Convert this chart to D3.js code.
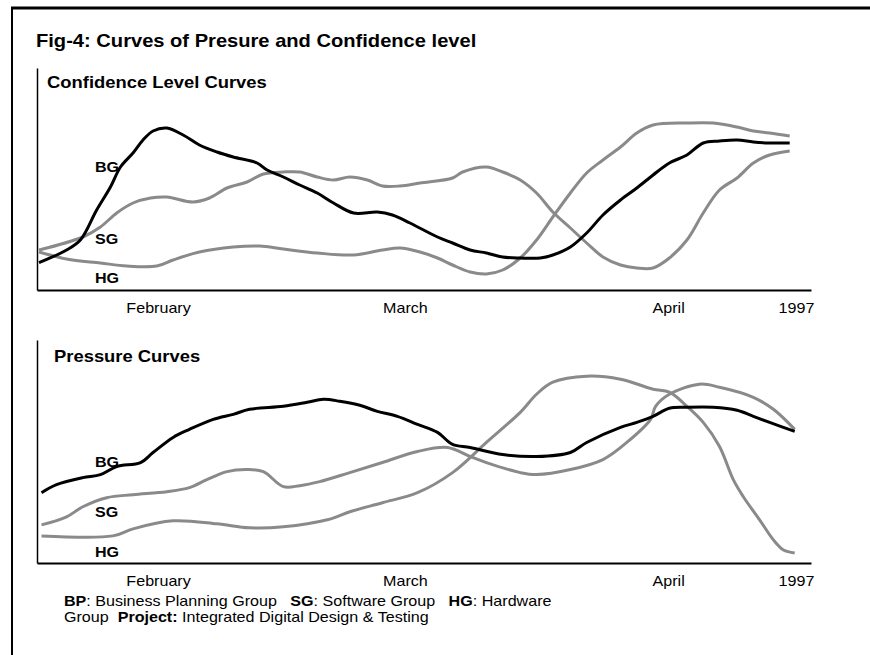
<!DOCTYPE html>
<html>
<head>
<meta charset="utf-8">
<script src="https://cdn.jsdelivr.net/npm/d3@7"></script>
<style>
  body { margin: 0; background: #fff; }
  svg { display: block; font-family: "Liberation Sans", Arial, sans-serif; }
</style>
</head>
<body>
<script>
// x values are days from the start of the period, y values are levels (0 = axis)
var tickDays = [9.5, 29.2, 50.2, 60.4];
var tickLabels = ['February', 'March', 'April', '1997'];
var groupNames = ['BG', 'SG', 'HG'];

// Confidence level curves
var confBG = [[0,13.7],[2.2,20],[3.3,25],[4.6,40],[5.7,51.5],[6.5,61.5],[7.5,68.5],[8.3,75],[9.1,79.5],[10.2,81],
  [11.5,77.5],[12.8,72.5],[14.2,69],[15.5,66.5],[17.4,63.5],[18.2,60],[19.5,56.5],[20.8,52.5],[22.2,48.5],[23.5,43.5],
  [25.1,38.5],[27,39],[28.2,37.5],[29.6,33.5],[31.8,26.5],[33,23.5],[34.4,20],[35.7,18.5],[37,16.5],[38.4,16],
  [40,16],[41,17.5],[42.4,21.5],[43.7,28.5],[45,37.5],[46.4,45],[47.7,51],[49,57.5],[50.3,63.5],[51.7,67.5],
  [53,73.5],[54.3,74.5],[55.7,75],[57,74],[58.3,73.5],[59.9,73.5]];
var confSG = [[0,20],[3.5,26.5],[4.9,31.5],[6.2,38.5],[7.5,43.5],[8.9,46],[10.2,46.5],[12.3,44],[13.6,46],[15,51],
  [16.6,54],[17.9,58],[19.5,59],[20.8,59],[22.2,56.5],[23.5,55],[24.8,56.5],[26.2,55],[27.4,52],[28.8,52],
  [30.4,53.5],[33,56],[33.8,59],[35.7,61.5],[37,59],[38.4,55],[39.7,48.5],[41,39],[42.4,31],[43.7,23.5],
  [45,16.5],[46.4,12.5],[47.7,11],[49,11],[50.3,16],[51.7,25],[53,38.5],[54.3,50],[55.7,56],[57,63.5],
  [58.3,67.5],[59.9,69.5]];
var confHG = [[0,19],[2.2,15.5],[4.9,13.5],[7,12],[9.4,12],[10.7,15],[12.8,19],[15.5,21.5],[17.6,22],[19.5,20.5],
  [22.2,18.5],[25.1,17.5],[27.4,20],[28.8,21],[30.4,19],[31.8,16],[33,12.5],[34.4,9],[35.7,8],[37,10],
  [38.4,16],[39.7,25],[41,36.5],[42.4,48.5],[43.7,58.5],[45,65],[46.4,71.5],[47.7,78.5],[49,82.5],[51.7,83.5],
  [53.8,83.5],[55.7,81.5],[57,79.5],[58.3,78.5],[59.9,77]];

// Pressure curves
var presBG = [[0.2,35],[1.4,39],[3.5,42.5],[4.9,44],[6.2,48],[8.1,50],[9.1,55],[10.7,62.5],[12,66.5],[13.9,71.5],
  [15.5,74],[16.8,76.5],[19.5,78],[21.4,80],[22.7,81.5],[24,80.5],[25.6,78.5],[27,75.5],[28.6,73],[30.2,69],
  [31.8,65],[33,59],[34.4,57.5],[37,54],[39.7,53],[42.4,55],[43.7,60],[46.4,67.5],[47.7,70],[49,73],
  [50.3,77],[51.7,77.5],[53.8,77.5],[55.7,76],[57,73],[58.3,70],[60.3,65.5]];
var presSG = [[0.2,19],[2.2,23],[3.5,28],[5.4,32.5],[7.5,34],[10.2,35.5],[12,37.5],[13.4,41.5],[15,45.5],[16.6,46.5],
  [17.9,45.5],[19.5,38],[20.8,38.5],[22.4,40.5],[24.8,45],[27.4,50],[30.2,55.5],[32.6,57.5],[34.4,53],[35.7,50],
  [38.4,45],[39.7,44],[42.4,46.5],[45,51.5],[46.9,60],[48.8,71.5],[49.2,78],[50.3,84],[52.7,89],[54.3,87.5],
  [57,82.5],[58.6,76.5],[60.3,66.5]];
var presHG = [[0.2,13.5],[5.9,13.5],[7.5,17],[10.7,21],[14.2,19.5],[16.8,17.5],[19.5,18],[23,21.5],[24.8,25.5],[27.4,30],
  [30.2,35],[33,45],[35.7,60],[38.4,75],[39.7,84],[41,90],[43.7,93],[46.4,91.5],[49,86.5],[50.3,85],
  [51.7,78],[53,70],[54.3,58],[55.4,41.5],[56.2,33],[57.5,21.5],[58.6,11.5],[59.4,6.5],[60.3,5]];

var SX = 1.15; // text in the original is a bit wide
var gray = '#8a8a8a';

var svg = d3.select('body').append('svg').attr('width', 870).attr('height', 655);

//helper for the wide text
function wideText(sel, x, y, str, size, bold) {
  return sel.append('text')
    .attr('transform', 'translate(' + x + ',' + y + ') scale(' + SX + ',1)')
    .style('font-size', size + 'px')
    .style('font-weight', bold ? 'bold' : 'normal')
    .text(str);
}

// frame
svg.append('line').attr('x1', 11).attr('x2', 870).attr('y1', 8).attr('y2', 8)
  .attr('stroke', '#000').attr('stroke-width', 3);
svg.append('line').attr('x1', 12).attr('x2', 12).attr('y1', 8).attr('y2', 655)
  .attr('stroke', '#000').attr('stroke-width', 2);

wideText(svg, 36, 47, 'Fig-4: Curves of Presure and Confidence level', 17.5, true);

var x = d3.scaleLinear().domain([-0.16, 61.6]).range([37, 811]);

function drawPanel(panel) {
  var y = d3.scaleLinear().domain([0, 111]).range([panel.bottom, panel.top]);
  var g = svg.append('g');

  var xAxis = d3.axisBottom(x).tickValues(tickDays)
    .tickFormat(function(d, i) { return tickLabels[i]; })
    .tickSizeInner(0).tickSizeOuter(0).tickPadding(13);
  var ax = g.append('g').attr('transform', 'translate(0,' + panel.bottom + ')').call(xAxis);
  ax.select('.domain').attr('stroke-width', 2);
  ax.selectAll('text').attr('transform', 'scale(' + SX + ',1)')
    .style('font-size', '14px').style('font-family', 'inherit').attr('fill', '#000');

  var yAxis = d3.axisLeft(y).tickValues([]).tickSizeOuter(0);
  g.append('g').attr('transform', 'translate(37,0)').call(yAxis)
    .select('.domain').attr('stroke-width', 1.5);

  var line = d3.line()
    .x(function(d) { return x(d[0]); })
    .y(function(d) { return y(d[1]); })
    .curve(d3.curveCatmullRom);

  // gray ones first so black sits on top
  [panel.series[1], panel.series[2], panel.series[0]].forEach(function(s, i) {
    g.append('path').datum(s)
      .attr('d', line)
      .attr('fill', 'none')
      .attr('stroke', i == 2 ? '#000' : gray)
      .attr('stroke-width', 3)
      .attr('stroke-linejoin', 'round');
  });

  wideText(g, panel.titleX, panel.titleY, panel.title, 16, true);
  groupNames.forEach(function(name, i) {
    wideText(g, 95, panel.labelY[i], name, 14, true);
  });
}

drawPanel({ top: 68, bottom: 290, title: 'Confidence Level Curves', titleX: 47, titleY: 88,
  series: [confBG, confSG, confHG], labelY: [172, 244, 283] });
drawPanel({ top: 340, bottom: 563, title: 'Pressure Curves', titleX: 54, titleY: 362,
  series: [presBG, presSG, presHG], labelY: [467, 517, 557] });

// footer note
var note = svg.append('text')
  .attr('transform', 'translate(64,606) scale(' + SX + ',1)')
  .style('font-size', '14px').style('white-space', 'pre');
note.append('tspan').style('font-weight', 'bold').text('BP');
note.append('tspan').text(': Business Planning Group   ');
note.append('tspan').style('font-weight', 'bold').text('SG');
note.append('tspan').text(': Software Group   ');
note.append('tspan').style('font-weight', 'bold').text('HG');
note.append('tspan').text(': Hardware');

var note2 = svg.append('text')
  .attr('transform', 'translate(64,622) scale(' + SX + ',1)')
  .style('font-size', '14px').style('white-space', 'pre');
note2.append('tspan').text('Group  ');
note2.append('tspan').style('font-weight', 'bold').text('Project:');
note2.append('tspan').text(' Integrated Digital Design & Testing');
</script>
</body>
</html>
